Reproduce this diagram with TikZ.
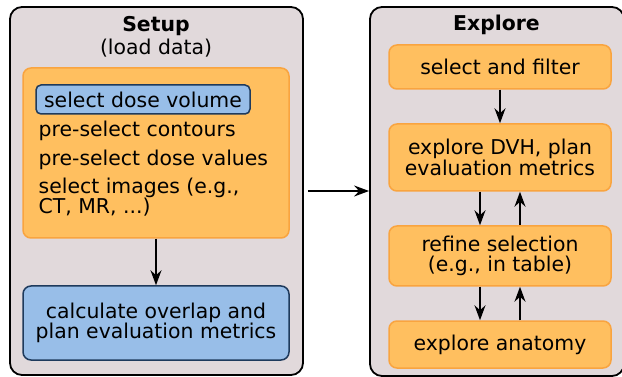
\documentclass[tikz,border=0pt]{standalone}
\usepackage{fontspec}
\setmainfont{DejaVu Sans}
\usetikzlibrary{arrows.meta}
\definecolor{outerfill}{HTML}{E1D9DB}
\definecolor{orfill}{HTML}{FFBF5F}
\definecolor{ordraw}{HTML}{F9A43F}
\definecolor{blfill}{HTML}{98BEE8}
\definecolor{bldraw}{HTML}{1E3A5C}
\tikzset{
  outerbox/.style={draw=black, fill=outerfill, line width=1.8pt, rounded corners=12pt, inner sep=0pt},
  orbox/.style={draw=ordraw, fill=orfill, line width=1.5pt, rounded corners=8pt, inner sep=0pt, align=center},
  blbox/.style={draw=bldraw, fill=blfill, line width=1.5pt, rounded corners=8pt, inner sep=0pt, align=center},
  smallbl/.style={draw=bldraw, fill=blfill, line width=1.5pt, rounded corners=5pt, inner sep=0pt},
  txt/.style={inner sep=0pt},
  arr/.style={line width=1.8pt, -{Stealth[length=15pt,width=11pt,inset=5pt]}},
}
\begin{document}
\begin{tikzpicture}[x=1pt,y=-1pt,font=\fontsize{20.4}{19.5}\selectfont]
\useasboundingbox (0,0) rectangle (622,377);
\clip (0,0) rectangle (622,377);
% outer boxes
\node[outerbox, minimum width=293pt, minimum height=368pt] (setup) at (156.5,191) {};
\node[outerbox, minimum width=254pt, minimum height=369pt] (explore) at (497,191.5) {};
% titles
\node[txt, anchor=base] (setupT) at (156,32) {\bfseries Setup};
\node[txt, anchor=base] (setupS) at (156,55) {(load data)};
\node[txt, anchor=base] (exploreT) at (496.5,31) {\bfseries Explore};
% setup content
\node[orbox, minimum width=266pt, minimum height=170pt] (list) at (156,153) {};
\node[smallbl, minimum width=214pt, minimum height=29pt] (dose) at (143,99.5) {select dose volume};
\node[txt, anchor=base west] (contours) at (38.5,137) {pre-select contours};
\node[txt, anchor=base west] (dosevals) at (38.5,166) {pre-select dose values};
\node[txt, anchor=base west, align=left] (images) at (38.5,214) {select images (e.g.,\\CT, MR, ...)};
\node[blbox, minimum width=266pt, minimum height=74pt] (calc) at (156,323) {calculate overlap and\\plan evaluation metrics};
% explore content
\node[orbox, minimum width=222pt, minimum height=44pt] (filter) at (500,67) {select and filter};
\node[orbox, minimum width=222pt, minimum height=67pt] (dvh) at (500,157.5) {explore DVH, plan\\evaluation metrics};
\node[orbox, minimum width=222pt, minimum height=60pt] (refine) at (500,256) {refine selection\\(e.g., in table)};
\node[orbox, minimum width=222pt, minimum height=47pt] (anat) at (500,344.5) {explore anatomy};
% arrows
\draw[arr] (list.south) -- (calc.north);
\draw[arr, shorten <=4pt] (setup.east |- 0,191) -- (explore.west |- 0,191);
\draw[arr] (filter.south) -- (dvh.north);
\draw[arr] ([xshift=-20pt]dvh.south) -- ([xshift=-20pt]refine.north);
\draw[arr] ([xshift=20pt]refine.north) -- ([xshift=20pt]dvh.south);
\draw[arr] ([xshift=-20pt]refine.south) -- ([xshift=-20pt]anat.north);
\draw[arr] ([xshift=20pt]anat.north) -- ([xshift=20pt]refine.south);
\end{tikzpicture}
\end{document}
